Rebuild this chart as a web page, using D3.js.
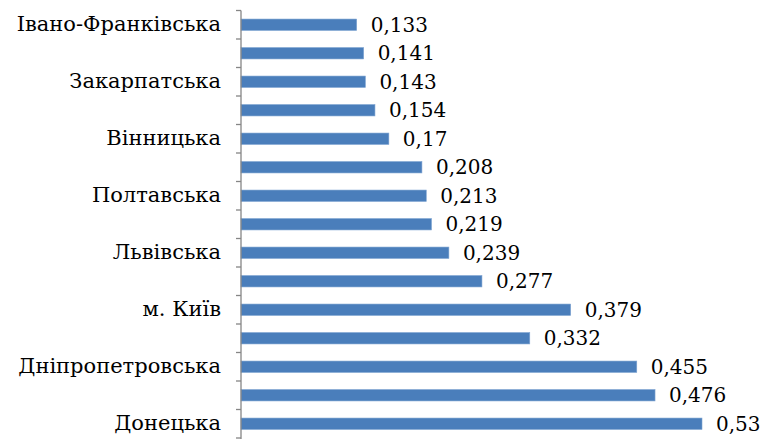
<!DOCTYPE html>
<html>
<head>
<meta charset="utf-8">
<script src="https://cdn.jsdelivr.net/npm/d3@7"></script>
<style>
  body { margin: 0; background: #fff; }
  text { font-family: "DejaVu Serif", "Liberation Serif", serif; }
</style>
</head>
<body>
<div id="chart"></div>
<script>
// Region labels (only every other one is shown in the chart)
const labels = [
    "Івано-Франківська", "", "Закарпатська", "", "Вінницька", "",
    "Полтавська", "", "Львівська", "", "м. Київ", "",
    "Дніпропетровська", "", "Донецька"
];

// Values, top to bottom
const values = [0.133, 0.141, 0.143, 0.154, 0.17, 0.208, 0.213, 0.219,
                0.239, 0.277, 0.379, 0.332, 0.455, 0.476, 0.53];

const width = 762;
const height = 439;

const svg = d3.select("#chart")
    .append("svg")
    .attr("width", width)
    .attr("height", height);

const x = d3.scaleLinear()
    .domain([0, 0.53])
    .range([241, 702]);

const y = d3.scaleBand()
    .domain(d3.range(values.length))
    .range([10.5, 438])
    .paddingInner(0.6)
    .paddingOuter(0.3);

// bars
svg.selectAll("rect.bar")
    .data(values)
    .join("rect")
    .attr("class", "bar")
    .attr("x", x(0))
    .attr("y", (d, i) => y(i))
    .attr("width", d => x(d) - x(0))
    .attr("height", y.bandwidth())
    .attr("fill", "#4a7ebb")
    .attr("stroke", "#7ea3d1")
    .attr("stroke-width", 0.6);

// value labels
svg.selectAll("text.val")
    .data(values)
    .join("text")
    .attr("class", "val")
    .attr("x", d => x(d) + 14)
    .attr("y", (d, i) => y(i) + y.bandwidth() / 2)
    .attr("dy", "0.36em")
    .attr("font-size", "20px")
    .attr("fill", "#000")
    .text(d => String(d).replace(".", ","));

// vertical axis with ticks between bands
const axisG = svg.append("g");
const step = y.step();
const y0 = y.range()[0];

axisG.append("line")
    .attr("x1", x(0)).attr("x2", x(0))
    .attr("y1", y0).attr("y2", y.range()[1] + 1)
    .attr("stroke", "#868686")
    .attr("stroke-width", 1.3);

axisG.selectAll("line.tick")
    .data(d3.range(values.length + 1))
    .join("line")
    .attr("class", "tick")
    .attr("x1", x(0) - 5).attr("x2", x(0))
    .attr("y1", i => y0 + i * step)
    .attr("y2", i => y0 + i * step)
    .attr("stroke", "#868686")
    .attr("stroke-width", 1.3);

// category labels
svg.selectAll("text.cat")
    .data(labels)
    .join("text")
    .attr("class", "cat")
    .attr("x", 221)
    .attr("y", (d, i) => y(i) + y.bandwidth() / 2)
    .attr("dy", "0.3em")
    .attr("text-anchor", "end")
    .attr("font-size", "21px")
    .attr("fill", "#000")
    .text(d => d);
</script>
</body>
</html>
